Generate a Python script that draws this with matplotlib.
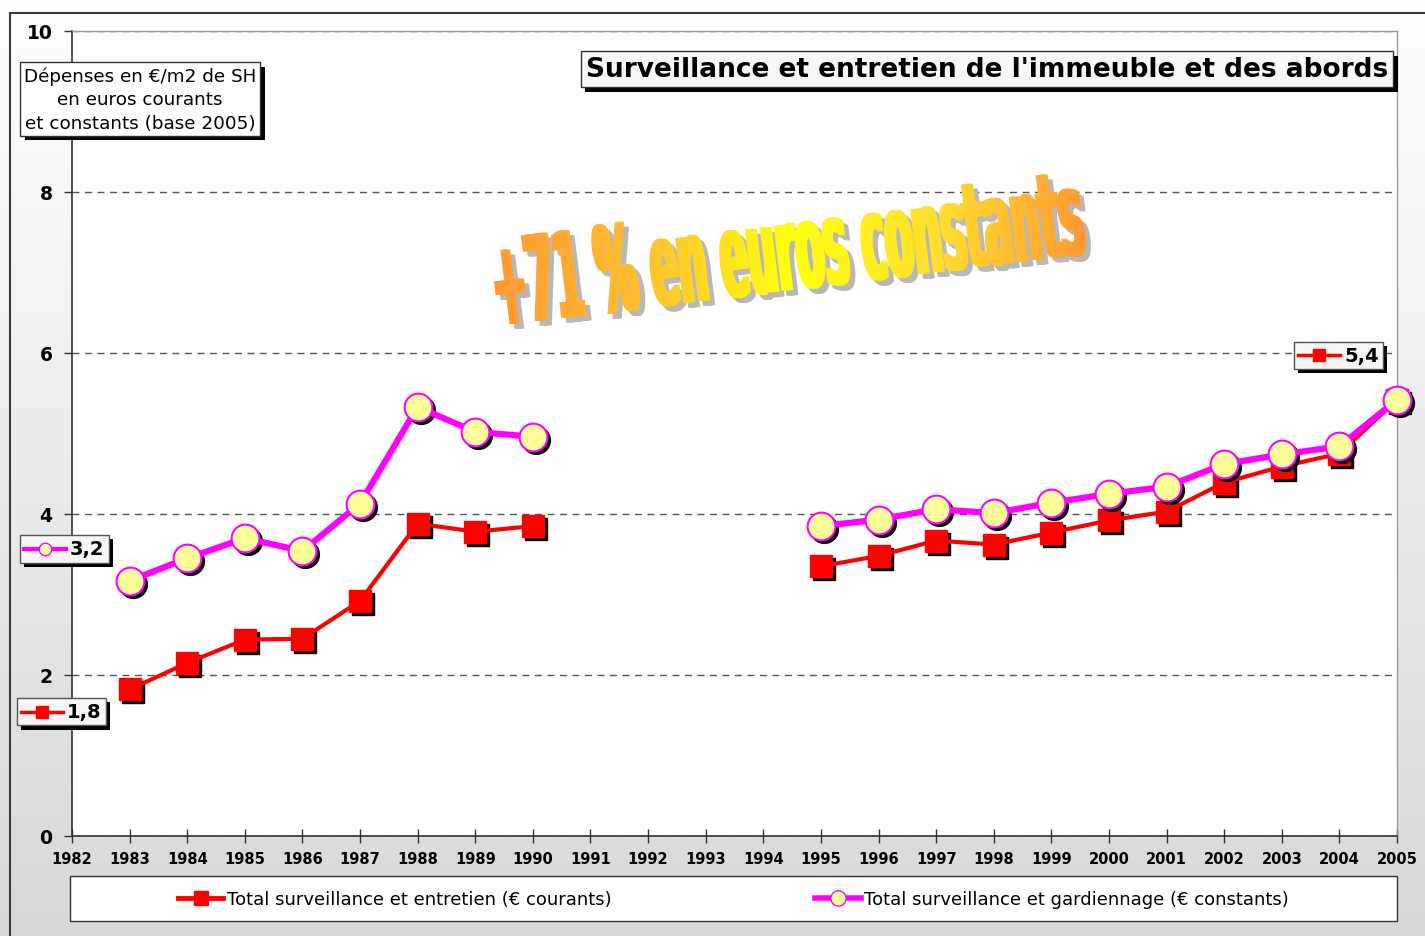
import numpy as np
import matplotlib
matplotlib.use("Agg")
import matplotlib.pyplot as plt
import matplotlib.patheffects as pe
import matplotlib.transforms as mtransforms
from matplotlib.patches import Rectangle, PathPatch
from matplotlib.lines import Line2D
from matplotlib.textpath import TextPath
from matplotlib.font_manager import FontProperties
from matplotlib.offsetbox import AnnotationBbox, DrawingArea, TextArea, HPacker
from matplotlib.colors import LinearSegmentedColormap

W, H = 1425, 937
nan = np.nan

years = ["1982", "1983", "1984", "1985", "1986", "1987", "1988", "1989",
         "1990", "1991", "1992", "1993", "1994", "1995", "1996", "1997",
         "1998", "1999", "2000", "2001", "2002", "2003", "2004", "2005"]
courants = [nan, 1.82, 2.15, 2.44, 2.45, 2.92, 3.88, 3.78, 3.85, nan, nan, nan,
            nan, 3.35, 3.48, 3.67, 3.62, 3.77, 3.92, 4.03, 4.39, 4.59, 4.75, 5.42]
constants = [nan, 3.17, 3.45, 3.70, 3.54, 4.13, 5.33, 5.02, 4.96, nan, nan, nan,
             nan, 3.85, 3.93, 4.06, 4.01, 4.14, 4.25, 4.34, 4.62, 4.74, 4.84, 5.42]
y_ticks = [0, 2, 4, 6, 8, 10]

label_courants = "Total surveillance et entretien (€ courants)"
label_constants = "Total surveillance et gardiennage (€ constants)"
title = "Surveillance et entretien de l'immeuble et des abords"
unit_note = "Dépenses en €/m2 de SH\nen euros courants\net constants (base 2005)"
banner = "+71 % en euros constants"

RED = "#ff0000"
MAGENTA = "#ff00ff"
PALE = "#ffff99"

plt.rcParams["font.family"] = ["DejaVu Sans"]

fig = plt.figure(figsize=(W / 100, H / 100), dpi=100)

# grey gradient background + outer frame
bg = fig.add_axes([0, 0, 1, 1], zorder=-10)
bg.imshow(np.linspace(0, 1, 256).reshape(-1, 1), extent=(0, W, 0, H), origin="lower",
          aspect="auto", cmap=LinearSegmentedColormap.from_list("bg", ["#d8d8d8", "#ffffff"]))
bg.add_patch(Rectangle((10, -10), W, H - 14 + 10, fill=False, ec="#3a3a3a", lw=1.5))
bg.add_patch(Rectangle((70, H - 922), 1327, 45, fc="white", ec="#333333", lw=1))
bg.set_xlim(0, W)
bg.set_ylim(0, H)
bg.axis("off")

ax = fig.add_axes([72 / W, 1 - 837 / H, (1397 - 72) / W, (837 - 32) / H])
ax.set_facecolor("white")
x = np.arange(len(years))

shadow = mtransforms.offset_copy(ax.transData, fig=fig, x=3, y=-3, units="dots")
ax.plot(x, courants, ls="none", marker="s", ms=16, color="black", transform=shadow,
        zorder=3, clip_on=False)
ax.plot(x, courants, color=RED, lw=3, marker="s", ms=16, mfc=RED, mec=RED,
        zorder=4, clip_on=False)
ax.plot(x, constants, ls="none", marker="o", ms=20, color="black", transform=shadow,
        zorder=5, clip_on=False)
ax.plot(x, constants, color=MAGENTA, lw=4.5, marker="o", ms=20, mfc=PALE, mec=MAGENTA,
        mew=1.5, zorder=6, clip_on=False)

ax.set_xlim(0, len(years) - 1)
ax.set_ylim(0, 10)
ax.set_xticks(x)
ax.set_xticklabels(years, fontsize=10.5, fontweight="bold")
ax.set_yticks(y_ticks)
ax.set_yticklabels([str(v) for v in y_ticks], fontsize=13.5, fontweight="bold")
ax.tick_params(axis="x", direction="inout", length=10, width=1, pad=6, colors="#333333",
               labelcolor="black")
ax.tick_params(axis="y", direction="out", length=6, width=1, pad=8, colors="#333333",
               labelcolor="black")
ax.yaxis.grid(True, ls=(0, (5, 4)), color="#555555", lw=1)
for side in ["left", "bottom"]:
    ax.spines[side].set_color("#333333")
    ax.spines[side].set_linewidth(1.2)
for side in ["top", "right"]:
    ax.spines[side].set_color("#999999")
    ax.spines[side].set_linewidth(1)


def value_badge(xi, yi, text, color, marker, mfc, lw, offset):
    da = DrawingArea(30, 12, 0, 0)
    da.add_artist(Line2D([0, 30], [6, 6], color=color, lw=lw))
    da.add_artist(Line2D([15], [6], marker=marker, ms=9, mfc=mfc, mec=color, mew=1))
    ta = TextArea(text, textprops=dict(fontsize=14, fontweight="bold"))
    pack = HPacker(children=[da, ta], align="center", pad=0, sep=3)
    ab = AnnotationBbox(pack, (xi, yi), xybox=offset, xycoords="data",
                        boxcoords="offset points", frameon=True, pad=0.3,
                        bboxprops=dict(boxstyle="square", fc="#f6f6f6", ec="#555555", lw=1),
                        zorder=10, annotation_clip=False)
    ab.patch.set_path_effects([pe.withSimplePatchShadow(offset=(3, -3),
                                                        shadow_rgbFace="black", alpha=1)])
    ab.set_clip_on(False)
    ax.add_artist(ab)


value_badge(1, constants[1], "3,2", MAGENTA, "o", PALE, 3, (-47, 23))
value_badge(1, courants[1], "1,8", RED, "s", RED, 2.5, (-49, -16))
value_badge(len(years) - 1, courants[-1], "5,4", RED, "s", RED, 2.5, (-42, 32))

# title and unit boxes
shadow_fx = [pe.withSimplePatchShadow(offset=(3.5, -3.5), shadow_rgbFace="black", alpha=1)]
t = fig.text(987 / W, 1 - 70 / H, title, fontsize=19, fontweight="bold",
             ha="center", va="center",
             bbox=dict(boxstyle="square,pad=0.2", fc="#f7f7f7", ec="#333333", lw=1))
t.get_bbox_patch().set_path_effects(shadow_fx)
u = fig.text(140 / W, 1 - 100 / H, unit_note, fontsize=13.2, ha="center", va="center",
             multialignment="center", linespacing=1.4,
             bbox=dict(boxstyle="square,pad=0.2", fc="white", ec="#333333", lw=1))
u.get_bbox_patch().set_path_effects(shadow_fx)

# legend
handles = [
    Line2D([], [], color=RED, lw=3.5, marker="s", ms=10, mfc=RED, mec=RED),
    Line2D([], [], color=MAGENTA, lw=4, marker="o", ms=11, mfc=PALE, mec=MAGENTA),
]
fig.legend(handles, [label_courants, label_constants], loc="center",
           bbox_to_anchor=((70 + 1397) / 2 / W, 1 - 900 / H), ncol=2, frameon=False,
           fontsize=13, handlelength=2.5, handletextpad=0.2, columnspacing=11.3)

# word-art banner: tall narrow text, gradient fill, grey drop shadow
ov = fig.add_axes([0, 0, 1, 1], zorder=20)
fp = FontProperties(family=["Liberation Sans Narrow", "DejaVu Sans"], weight="bold")
tp = TextPath((0, 0), banner, size=100, prop=fp)
ext = tp.get_extents()
tr = (mtransforms.Affine2D().translate(-ext.x0, -ext.y0)
      .scale(588 / ext.width, 90 / ext.height).rotate_deg(7).translate(502, H - 328))
path = tr.transform_path(tp)
bb = path.get_extents()
banner_cmap = LinearSegmentedColormap.from_list(
    "banner", ["#ff9933", "#ffbf30", "#ffff10", "#ffe030", "#ff9933"])
# several slightly shifted copies make the strokes heavier
shifts = [-2.5, -1.25, 0, 1.25, 2.5]
for dx in shifts:
    ov.add_patch(PathPatch(path, fc="#b8b8b8", ec="none",
                           transform=mtransforms.Affine2D().translate(5 + dx, -5)
                           + ov.transData, zorder=1))
for dx in shifts:
    clip = PathPatch(path, fc="none", ec="none",
                     transform=mtransforms.Affine2D().translate(dx, 0) + ov.transData)
    ov.add_patch(clip)
    img = ov.imshow(np.linspace(0, 1, 256).reshape(1, -1),
                    extent=(bb.x0 - 3, bb.x1 + 3, bb.y0, bb.y1),
                    cmap=banner_cmap, aspect="auto", zorder=3)
    img.set_clip_path(clip)
ov.set_xlim(0, W)
ov.set_ylim(0, H)
ov.axis("off")

fig.savefig("out.png", dpi=100)
